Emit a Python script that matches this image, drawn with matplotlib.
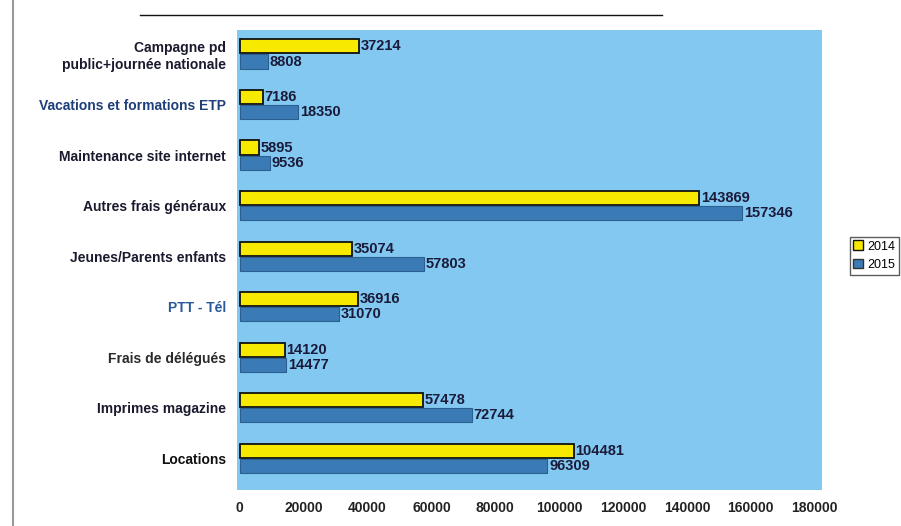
import matplotlib
matplotlib.use("Agg")
import matplotlib.pyplot as plt
from matplotlib.patches import Patch
from matplotlib.lines import Line2D

plt.rcParams['font.family'] = ['Liberation Sans', 'DejaVu Sans']

categories = [
    "Campagne pd\npublic+journée nationale",
    "Vacations et formations ETP",
    "Maintenance site internet",
    "Autres frais généraux",
    "Jeunes/Parents enfants",
    "PTT - Tél",
    "Frais de délégués",
    "Imprimes magazine",
    "Locations",
]
values_2014 = [37214, 7186, 5895, 143869, 35074, 36916, 14120, 57478, 104481]
values_2015 = [8808, 18350, 9536, 157346, 57803, 31070, 14477, 72744, 96309]
series_names = ["2014", "2015"]
xticks = [0, 20000, 40000, 60000, 80000, 100000, 120000, 140000, 160000, 180000]
xtick_labels = ["0", "20000", "40000", "60000", "80000", "100000", "120000",
                "140000", "160000", "180000"]

label_colors = ["#1a1a2e", "#1f3f7a", "#1a1a2e", "#1a1a2e", "#1a1a2e",
                "#2a5a9a", "#2a2a2a", "#1a1a2e", "#111111"]

fig = plt.figure(figsize=(9.01, 5.26), dpi=100)
fig.patch.set_facecolor("white")
ax = fig.add_axes([0.263, 0.068, 0.649, 0.875])
ax.set_facecolor("#82c8f0")

h = 0.28
ys = list(range(len(categories)))
y14 = [y - h / 2 - 0.01 for y in ys]
y15 = [y + h / 2 + 0.01 for y in ys]
ax.barh(y14, values_2014, height=h, color="#f7ea00", edgecolor="#111111", linewidth=1.3)
ax.barh(y15, values_2015, height=h, color="#3b7bb5", edgecolor="#2a5f8f", linewidth=0.8)

for y, v in zip(y14, values_2014):
    ax.text(v + 500, y, str(v), va="center", ha="left", fontsize=10.5,
            fontweight="bold", color="#1a1a3a")
for y, v in zip(y15, values_2015):
    ax.text(v + 500, y, str(v), va="center", ha="left", fontsize=10.5,
            fontweight="bold", color="#1a1a3a")

ax.set_xlim(-900, 182200)
ax.set_ylim(8.63, -0.475)
ax.set_yticks(ys)
ax.set_yticklabels(categories, fontsize=10, fontweight="bold")
for t, c in zip(ax.get_yticklabels(), label_colors):
    t.set_color(c)
ax.set_xticks(xticks)
ax.set_xticklabels(xtick_labels, fontsize=10, fontweight="bold", color="#222222")
ax.tick_params(axis="both", length=0)
ax.tick_params(axis="y", pad=8)
ax.tick_params(axis="x", pad=8)
for s in ax.spines.values():
    s.set_visible(False)

handles = [Patch(facecolor="#f7ea00", edgecolor="#111111", label=series_names[0]),
           Patch(facecolor="#3b7bb5", edgecolor="#333333", label=series_names[1])]
fig.legend(handles=handles, loc="upper left", bbox_to_anchor=(0.943, 0.55),
           fontsize=9, frameon=True, fancybox=False, edgecolor="#333333",
           handlelength=0.8, handleheight=0.8, handletextpad=0.3,
           borderpad=0.3, labelspacing=0.5, borderaxespad=0)

fig.add_artist(Line2D([0.155, 0.735], [0.972, 0.972], color="#111111", linewidth=1.0))
fig.add_artist(Line2D([0.014, 0.014], [0.0, 1.0], color="#999999", linewidth=1.5))

fig.savefig("out.png", dpi=100, facecolor="white")
